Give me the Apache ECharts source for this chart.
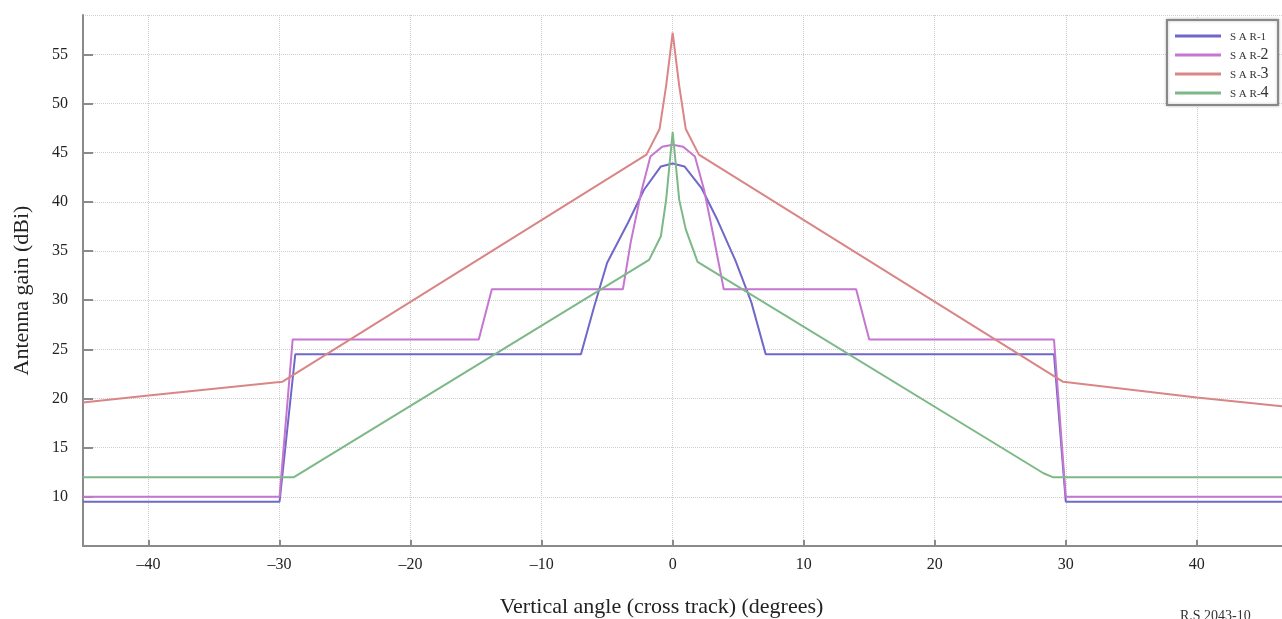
<!DOCTYPE html>
<html>
<head>
<meta charset="utf-8">
<script src="https://cdn.jsdelivr.net/npm/echarts@6/dist/echarts.min.js"></script>
<style>
  html, body { margin: 0; padding: 0; background: #fff; }
  #main { width: 1282px; height: 619px; }
</style>
</head>
<body>
<div id="main"></div>
<script>
// values: [angle (deg), gain (dBi)]
var xTicks = [-40, -30, -20, -10, 0, 10, 20, 30, 40];
var seriesNames = ['SAR-1', 'SAR-2', 'SAR-3', 'SAR-4'];
var sar1 = [[-45, 9.5], [-30, 9.5], [-28.8, 24.5], [-7, 24.5], [-6, 29.3], [-5, 33.8], [-3.4, 37.9],
    [-2.2, 41.2], [-0.9, 43.6], [0, 43.9], [0.9, 43.6], [2.2, 41.4], [3.4, 38.2], [4.8, 34.0],
    [6, 29.8], [7.1, 24.5], [29.1, 24.5], [30, 9.5], [46.5, 9.5]];
var sar2 = [[-45, 10], [-30, 10], [-29, 26], [-14.8, 26], [-13.8, 31.1], [-3.8, 31.1], [-3.2, 35.9],
    [-2.4, 41], [-1.7, 44.6], [-0.8, 45.6], [0, 45.8], [0.8, 45.6], [1.7, 44.6], [2.4, 41.2],
    [3.1, 36.6], [3.9, 31.1], [14, 31.1], [15, 26], [29.1, 26], [30, 10], [46.5, 10]];
var sar3 = [[-45, 19.6], [-40, 20.3], [-29.8, 21.7], [-2, 44.8], [-1, 47.4], [-0.5, 51.8], [0, 57.2],
    [0.5, 51.8], [1, 47.4], [2, 44.8], [29.8, 21.7], [40, 20.1], [46.5, 19.2]];
var sar4 = [[-45, 12], [-28.9, 12], [-1.8, 34.1], [-0.9, 36.5], [-0.5, 40.2], [0, 47.1], [0.5, 40.2],
    [1, 37.2], [1.9, 33.9], [28.3, 12.4], [29, 12], [46.5, 12]];
var colors = ['#6f68c9', '#c476d0', '#da8586', '#7db887'];

var myChart;
function fmtTick(v) {
    return v < 0 ? '\u2013' + Math.abs(v) : String(v);
}
function makeSeries(name, data, i) {
    return {
        name: name,
        type: 'line',
        data: data,
        symbol: 'none',
        color: colors[i],
        lineStyle: { width: 2, color: colors[i] },
        z: 3 + i
    };
}
function main() {
    myChart = echarts.init(document.getElementById('main'), null, { renderer: 'canvas' });
    var serif = 'Liberation Serif';
    var option = {
        backgroundColor: '#fff',
        animation: false,
        textStyle: { fontFamily: serif },
        grid: { left: 83, right: 0, top: 15, bottom: 73, outerBoundsMode: 'none', containLabel: false },
        legend: {
            orient: 'vertical',
            left: 1167,
            top: 20,
            padding: [8, 8, 4, 8],
            icon: 'rect',
            itemWidth: 46,
            itemHeight: 3,
            itemGap: 3,
            borderColor: '#888',
            borderWidth: 2,
            backgroundColor: '#fff',
            shadowColor: 'rgba(0,0,0,0.25)',
            shadowBlur: 3,
            data: seriesNames,
            formatter: function (n) {
                // the first entry is set all in small capitals in the reference
                if (n === 'SAR-1') return '{a|S A R-1}{b| }';
                return '{a|S A R-}{b|' + n.slice(4) + '}';
            },
            textStyle: {
                color: '#333',
                padding: [0, 0, 0, 4],
                rich: {
                    a: { fontFamily: serif, fontSize: 11, color: '#333', verticalAlign: 'bottom', padding: [0, 0, 1, 0] },
                    b: { fontFamily: serif, fontSize: 16, color: '#333', height: 15 }
                }
            }
        },
        xAxis: {
            type: 'value',
            min: -45,
            max: 46.5,
            name: 'Vertical angle (cross track) (degrees)',
            nameLocation: 'middle',
            nameGap: 50,
            nameTextStyle: { fontFamily: serif, fontSize: 22, color: '#222', padding: [0, 42, 0, 0] },
            axisLine: { show: true, onZero: false, lineStyle: { color: '#8a8a8a', width: 2 } },
            axisTick: { show: true, inside: true, length: 6, customValues: xTicks, lineStyle: { color: '#8a8a8a', width: 2 } },
            axisLabel: { customValues: xTicks, fontFamily: serif, fontSize: 16, color: '#222', margin: 11, formatter: fmtTick },
            splitLine: { show: true, lineStyle: { color: '#cfcfcf', type: 'dotted', width: 1 } }
        },
        yAxis: {
            type: 'value',
            min: 5,
            max: 59,
            interval: 5,
            name: 'Antenna gain (dBi)',
            nameLocation: 'middle',
            nameGap: 50,
            nameTextStyle: { fontFamily: serif, fontSize: 22, color: '#222', padding: [0, 20, 0, 0] },
            axisLine: { show: true, onZero: false, lineStyle: { color: '#8a8a8a', width: 2 } },
            axisTick: { show: true, inside: true, length: 10, lineStyle: { color: '#8a8a8a', width: 2 } },
            axisLabel: {
                fontFamily: serif, fontSize: 16, color: '#222', margin: 15,
                showMaxLabel: false,
                formatter: function (v) { return (v === 5 || v === 59) ? '' : String(v); }
            },
            splitLine: { show: true, lineStyle: { color: '#cfcfcf', type: 'dotted', width: 1 } }
        },
        graphic: [{
            type: 'text',
            left: 1180,
            top: 609,
            style: { text: 'R.S 2043-10', fontFamily: serif, fontSize: 14, fill: '#333' }
        }],
        series: [
            makeSeries(seriesNames[0], sar1, 0),
            makeSeries(seriesNames[1], sar2, 1),
            makeSeries(seriesNames[2], sar3, 2),
            makeSeries(seriesNames[3], sar4, 3)
        ]
    };
    myChart.setOption(option);
}
main();
</script>
</body>
</html>
